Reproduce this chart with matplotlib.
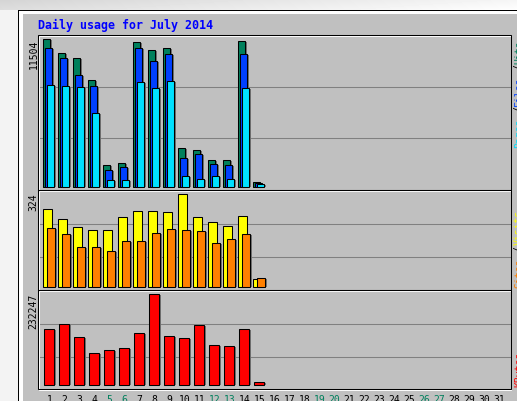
import numpy as np
import matplotlib
matplotlib.use('Agg')
import matplotlib.pyplot as plt
from matplotlib.patches import Rectangle

# ---- data ----
days = np.arange(1, 16)
all_days = np.arange(1, 32)
weekend_days = [5, 6, 12, 13, 19, 20, 26, 27]

hits = [11504, 10419, 10031, 8349, 1736, 1837, 11272, 10651, 10806, 3054, 2899, 2124, 2124, 11349, 388]
files = [10806, 10031, 8713, 7860, 1349, 1581, 10806, 9799, 10341, 2279, 2589, 1814, 1736, 10341, 341]
pages = [7938, 7860, 7806, 5767, 574, 574, 8171, 7706, 8248, 884, 651, 884, 651, 7706, 209]
visits = [270, 235, 207, 197, 197, 242, 263, 263, 260, 324, 242, 225, 211, 246, 26]
sites = [204, 183, 140, 137, 126, 158, 161, 186, 200, 197, 193, 154, 168, 183, 29]
kbytes = [142600, 155400, 122100, 81200, 88900, 94000, 132400, 232247, 124700, 119600,
          152900, 101700, 99100, 142600, 7700]

title = 'Daily usage for July 2014'

# ---- layout in pixels (image is 517x402) ----
W, H = 517, 402
X0, X1 = 37.5, 510.5
SLOT = 15.0
FIRST = 49.3                     # pixel centre of day 1
XLO = 1 + (X0 - FIRST) / SLOT
XHI = 1 + (X1 - FIRST) / SLOT
MONO = 'DejaVu Sans Mono'


def fbox(x0, y0, x1, y1):
    return [x0 / W, 1 - y1 / H, (x1 - x0) / W, (y1 - y0) / H]


def fpt(x, y):
    return x / W, 1 - y / H


fig = plt.figure(figsize=(W / 100, H / 100), dpi=100)

# page background (light gradient outside the image frame)
bg = fig.add_axes([0, 0, 1, 1], zorder=-3)
yy, xx = np.mgrid[0:H, 0:W]
shade = np.where(yy < 11, 0.83 + 0.13 * xx / W + 0.04 * yy / 11, 0.95)
bg.imshow(shade, cmap='gray', vmin=0, vmax=1, aspect='auto', extent=[0, 1, 0, 1])
bg.axis('off')

# image frame: black line, white band, grey panel
for x0, y0, col in [(18, 11, 'black'), (19, 12, 'white'), (23, 15, '#c0c0c0')]:
    fig.add_artist(Rectangle(fpt(x0, 700), (700 - x0) / W, (700 - y0) / H,
                             transform=fig.transFigure, color=col, lw=0, zorder=-2))


def make_panel(y0, y1, vmax, top_px, base_px, grid_rows):
    ax = fig.add_axes(fbox(X0, y0, X1, y1), zorder=0)
    per_px = vmax / (base_px - top_px)
    ax.set_ylim(-(y1 - base_px) * per_px, (base_px - y0) * per_px)
    ax.set_xlim(XLO, XHI)
    ax.set_facecolor('#c0c0c0')
    for r in grid_rows:
        f = (y1 - r) / (y1 - y0)
        ax.plot([0, 1], [f, f], transform=ax.transAxes, color='#808080', lw=0.75, zorder=1)
    for s in ax.spines.values():
        s.set_visible(False)
    ax.set_xticks([])
    ax.set_yticks([])
    # webalizer style inset frame
    fig.add_artist(Rectangle(fpt(X0 + 1, y1 + 1), (X1 - X0) / W, (y1 - y0) / H,
                             transform=fig.transFigure, fill=False, ec='white', lw=0.75, zorder=5))
    fig.add_artist(Rectangle(fpt(X0, y1), (X1 - X0) / W, (y1 - y0) / H,
                             transform=fig.transFigure, fill=False, ec='black', lw=0.75, zorder=6))
    return ax, per_px


def draw_bars(ax, per_px, values, left_px, width_px, color):
    x = days + left_px / SLOT
    w = width_px / SLOT
    vals = np.array(values, dtype=float)
    ax.bar(x + 1.7 / SLOT, vals - per_px, width=w, align='edge', color='#707070', lw=0, zorder=2)
    ax.bar(x, vals, width=w, align='edge', color=color, edgecolor='black', lw=0.75, zorder=2)


# Hits / Files / Pages
ax1, p1 = make_panel(35.5, 190.5, max(hits), 40.3, 188.0, [87.5, 138.5])
draw_bars(ax1, p1, hits, -6, 7, '#00805c')
draw_bars(ax1, p1, files, -4, 7, '#0040ff')
draw_bars(ax1, p1, pages, -2.3, 7.3, '#00e0ff')

# Visits / Sites
ax2, p2 = make_panel(190.5, 290.5, max(visits), 195.0, 287.5, [224.5, 257.5])
draw_bars(ax2, p2, visits, -6, 8.4, '#ffff00')
draw_bars(ax2, p2, sites, -2.3, 8, '#ff8000')

# KBytes
ax3, p3 = make_panel(290.5, 389.5, max(kbytes), 295.3, 386.0, [324.5, 357.5])
draw_bars(ax3, p3, kbytes, -5, 10, '#ff0000')

ax3.set_xticks(all_days)
ax3.set_xticklabels([str(d) for d in all_days], family=MONO, fontsize=7)
ax3.tick_params(axis='x', length=0, pad=3.8)
for lbl, d in zip(ax3.get_xticklabels(), all_days):
    lbl.set_color('#00805c' if d in weekend_days else 'black')

# title
fig.text(*fpt(37.7, 29.5), title, family=MONO, weight='bold', fontsize=8.4,
         color='#0000ff', ha='left', va='baseline')

# max value labels (rotated)
for y, v in [(39.3, max(hits)), (193.3, max(visits)), (293.3, max(kbytes))]:
    fig.text(*fpt(36.7, y), str(v), family=MONO, fontsize=7, rotation=90,
             rotation_mode='anchor', ha='right', va='baseline', color='black')

# legend on the right edge (mostly cut off)
legend_bits = [(148, 'Pages', '#00e0ff'), (112, '/', 'black'), (106, 'Files', '#0040ff'),
               (70, '/', 'black'), (64, 'Hits', '#00805c'),
               (288, 'Sites', '#ff8000'), (252, '/', 'black'), (245, 'Visits', '#ffff00'),
               (387, 'KBytes', '#ff0000')]
for y, txt, col in legend_bits:
    fig.text(*fpt(522, y), txt, family=MONO, fontsize=7, rotation=90,
             rotation_mode='anchor', ha='left', va='baseline', color=col)

fig.savefig('out.png', dpi=100)
